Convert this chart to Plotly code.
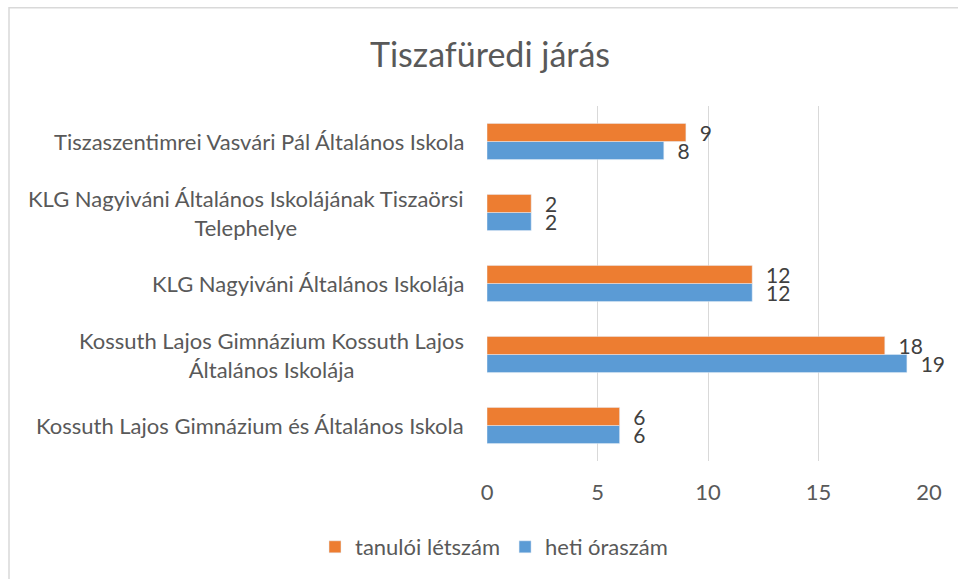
import plotly.graph_objects as go

categories = [
    "Kossuth Lajos Gimnázium és Általános Iskola",
    "Kossuth Lajos Gimnázium Kossuth Lajos<br>Általános Iskolája",
    "KLG Nagyiváni Általános Iskolája",
    "KLG Nagyiváni Általános Iskolájának Tiszaörsi<br>Telephelye",
    "Tiszaszentimrei Vasvári Pál Általános Iskola",
]
heti_oraszam = [6, 19, 12, 2, 8]
tanuloi_letszam = [6, 18, 12, 2, 9]
x_ticks = [0, 5, 10, 15, 20]

FONT = "Lato"
TXT = "#595959"
LBL = "#404040"
FS = 22

L, R, T, B = 487, 29, 106, 117
PW, PH = 958 - L - R, 579 - T - B

fig = go.Figure()
fig.add_trace(go.Bar(
    y=categories, x=heti_oraszam, orientation="h", name="heti óraszám",
    marker=dict(color="#5B9BD5"), texttemplate="\u00a0\u00a0%{x}", textposition="outside",
    constraintext="none", textfont=dict(family=FONT, size=21, color=LBL), cliponaxis=False,
))
fig.add_trace(go.Bar(
    y=categories, x=tanuloi_letszam, orientation="h", name="tanulói létszám",
    marker=dict(color="#ED7D31"), texttemplate="\u00a0\u00a0%{x}", textposition="outside",
    constraintext="none", textfont=dict(family=FONT, size=21, color=LBL), cliponaxis=False,
))

for c in categories:
    fig.add_annotation(
        x=0, xref="paper", y=c, yref="y", text=c, showarrow=False,
        xanchor="right", yanchor="middle", xshift=-21, align="center",
        font=dict(family=FONT, size=FS, color=TXT),
    )

fig.update_layout(
    width=958, height=579,
    margin=dict(l=L, r=R, t=T, b=B),
    paper_bgcolor="white", plot_bgcolor="white",
    barmode="group", bargap=0.49, bargroupgap=0,
    title=dict(text="Tiszafüredi járás", xref="container", x=490 / 958, xanchor="center",
               y=1 - 55 / 579, yanchor="middle",
               font=dict(family=FONT, size=34, color=TXT)),
    xaxis=dict(range=[0, 20], tickvals=x_ticks, showgrid=True, gridcolor="#D9D9D9",
               gridwidth=1, zeroline=False, showline=False, ticks="",
               tickfont=dict(family=FONT, size=FS, color=TXT), ticklabelstandoff=16),
    yaxis=dict(showticklabels=False, showgrid=False, zeroline=False, showline=False,
               categoryorder="array", categoryarray=categories),
    legend=dict(orientation="h", x=(494 - L) / PW, xanchor="center",
                y=-(547 - (579 - B)) / PH, yanchor="middle",
                traceorder="reversed", font=dict(family=FONT, size=FS, color=TXT),
                itemwidth=30),
    showlegend=True,
    shapes=[dict(type="rect", xref="paper", yref="paper",
                 x0=(9 - L) / PW, x1=(990 - L) / PW,
                 y0=-(620 - (579 - B)) / PH, y1=1 + (T - 7.5) / PH,
                 line=dict(color="#D9D9D9", width=1.5))],
)

fig.write_html("out.html", config={"displayModeBar": False},
               post_script="document.body.style.margin='0';")
